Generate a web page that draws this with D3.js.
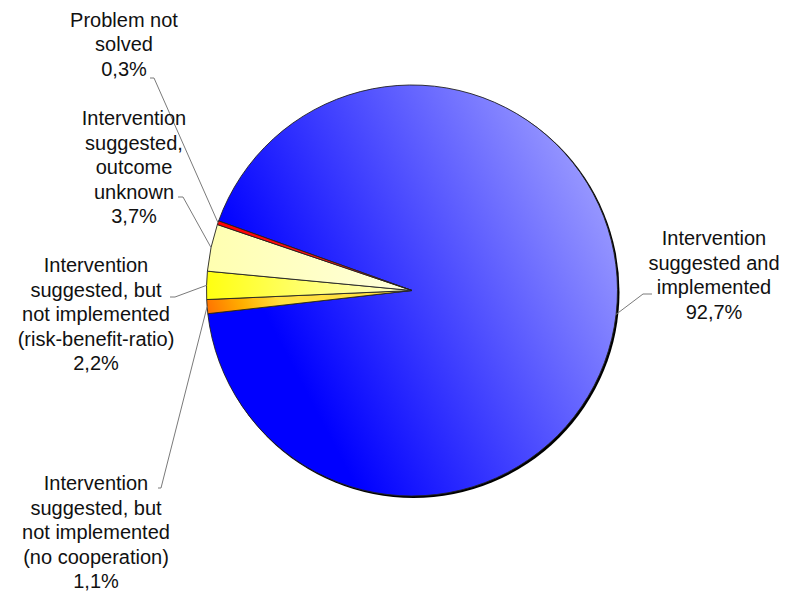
<!DOCTYPE html>
<html>
<head>
<meta charset="utf-8">
<script src="https://cdn.jsdelivr.net/npm/d3@7"></script>
<style>
  html, body { margin: 0; padding: 0; background: #fff; }
  svg { display: block; }
  text { font-family: "Liberation Sans", Arial, sans-serif; font-size: 20px; fill: #111; }
</style>
</head>
<body>
<div id="chart"></div>
<script>
const width = 791;
const height = 594;

// slice data, in drawing order (clockwise)
const categories = [
  "Intervention suggested and implemented",
  "Intervention suggested, but not implemented (no cooperation)",
  "Intervention suggested, but not implemented (risk-benefit-ratio)",
  "Intervention suggested, outcome unknown",
  "Problem not solved"
];
const values = [92.7, 1.1, 2.2, 3.7, 0.3];
const valueLabels = ["92,7%", "1,1%", "2,2%", "3,7%", "0,3%"];
const labelLines = [
  ["Intervention", "suggested and", "implemented"],
  ["Intervention", "suggested, but", "not implemented", "(no cooperation)"],
  ["Intervention", "suggested, but", "not implemented", "(risk-benefit-ratio)"],
  ["Intervention", "suggested,", "outcome", "unknown"],
  ["Problem not", "solved"]
];

// pie geometry
const cx = 412, cy = 290.5, r = 205.5;
const startDeg = -70.2;

// label layout: text centre x, first baseline, leader end point near text
const labelPos = [
  { x: 714, y: 245, lx: 652, ly: 294, hx: 643 },
  { x: 96,  y: 490, lx: 158, ly: 488, hx: 161 },
  { x: 96,  y: 272, lx: 170, ly: 297, hx: 175 },
  { x: 134, y: 125, lx: 178, ly: 197, hx: 183 },
  { x: 124, y: 26.5, lx: 150, ly: 78, hx: 154 }
];
const lineHeight = 24.5;

const svg = d3.select('#chart')
  .append('svg')
  .attr('width', width)
  .attr('height', height);

const defs = svg.append('defs');

// gradient coords are relative to the pie centre (slices sit in a translated group)
function grad(id, x1, y1, x2, y2, stops) {
  const g = defs.append('linearGradient')
    .attr('id', id)
    .attr('gradientUnits', 'userSpaceOnUse')
    .attr('x1', x1).attr('y1', y1).attr('x2', x2).attr('y2', y2);
  stops.forEach(([o, c]) => g.append('stop').attr('offset', o).attr('stop-color', c));
}

grad('g0', -125, 65, 204, -108, [[0, '#0000ff'], [1, '#a0a0ff']]);
grad('g1', -r, 22, -r + 70, -4, [[0, '#ff7000'], [0.5, '#ffb000'], [1, '#ffe040']]);
grad('g2', -r, 0, -20, 0, [[0, '#ffff10'], [1, '#ffffc0']]);
grad('g3', -r, 0, -20, 0, [[0, '#ffffb0'], [1, '#ffffd8']]);
grad('g4', -r, 0, -20, 0, [[0, '#ff0000'], [1, '#ff2020']]);
const fills = ['url(#g0)', 'url(#g1)', 'url(#g2)', 'url(#g3)', 'url(#g4)'];

const pie = d3.pie()
  .sort(null)
  .value((d) => d)
  .startAngle(startDeg * Math.PI / 180)
  .endAngle((startDeg + 360) * Math.PI / 180);

const arcs = pie(values);
const arc = d3.arc().innerRadius(0).outerRadius(r);

const g = svg.append('g').attr('transform', `translate(${cx},${cy})`);

// dark rim toward lower right
g.append('circle')
  .attr('cx', 1.5).attr('cy', 1.5)
  .attr('r', r + 0.5)
  .attr('fill', '#000');

g.selectAll('path.slice')
  .data(arcs)
  .join('path')
  .attr('class', 'slice')
  .attr('d', arc)
  .attr('fill', (d, i) => fills[i])
  .attr('stroke', '#222')
  .attr('stroke-width', 0.9)
  .attr('stroke-linejoin', 'round');

// leader lines
const leaders = svg.append('g')
  .attr('fill', 'none')
  .attr('stroke', '#7a7a7a')
  .attr('stroke-width', 1);

arcs.forEach((d, i) => {
  const mid = (d.startAngle + d.endAngle) / 2;
  const ax = cx + Math.sin(mid) * r;
  const ay = cy - Math.cos(mid) * r;
  const p = labelPos[i];
  leaders.append('path')
    .attr('d', d3.line()([[p.lx, p.ly], [p.hx, p.ly], [ax, ay]]));
});

// labels
const labels = svg.append('g').attr('text-anchor', 'middle');
arcs.forEach((d, i) => {
  const p = labelPos[i];
  const lines = labelLines[i].concat([valueLabels[i]]);
  const t = labels.append('text').attr('x', p.x).attr('y', p.y);
  lines.forEach((s, k) => {
    t.append('tspan')
      .attr('x', p.x)
      .attr('y', p.y + k * lineHeight)
      .text(s);
  });
});
</script>
</body>
</html>
